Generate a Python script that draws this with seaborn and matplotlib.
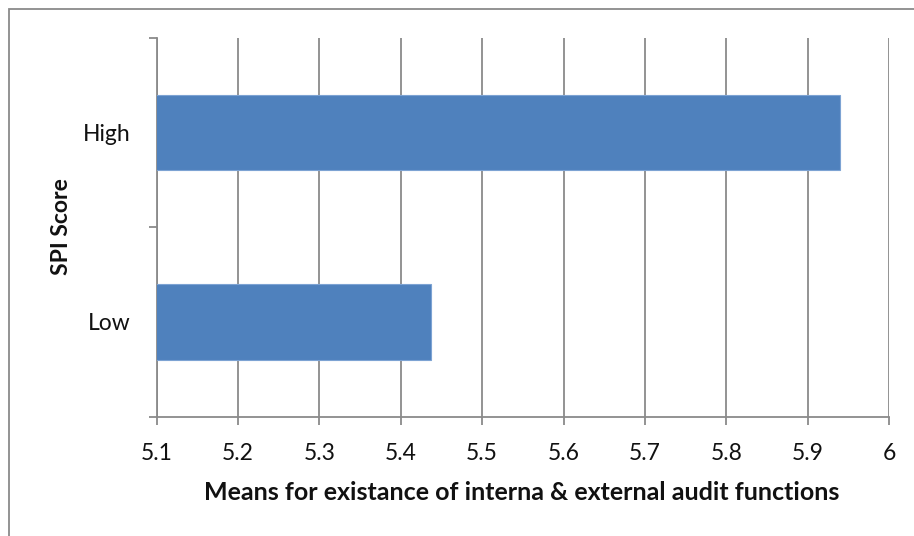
import matplotlib
matplotlib.use("Agg")
import matplotlib.pyplot as plt
import seaborn as sns
import pandas as pd
import numpy as np
from matplotlib.patches import Rectangle

categories = ["High", "Low"]
means = [5.94, 5.437]
x_ticks = [5.1, 5.2, 5.3, 5.4, 5.5, 5.6, 5.7, 5.8, 5.9, 6.0]
x_tick_labels = ["5.1", "5.2", "5.3", "5.4", "5.5", "5.6", "5.7", "5.8", "5.9", "6"]
x_label = "Means for existance of interna & external audit functions"
y_label = "SPI Score"

sns.set_theme(style="white")
plt.rcParams['font.family'] = ['Lato', 'DejaVu Sans']

df = pd.DataFrame({"SPI Score": categories, "Mean": means})

W, H = 914, 536
fig = plt.figure(figsize=(W / 100, H / 100), dpi=100)
L, R, T, B = 156.7, 889, 37.7, 416.7
ax = fig.add_axes([L / W, 1 - B / H, (R - L) / W, (B - T) / H])

grid_c = "#8a8a8a"
sns.barplot(data=df, y="SPI Score", x="Mean", order=categories, orient="h",
            color="#4F81BD", saturation=1, width=0.4, ax=ax,
            edgecolor="#7da3d3", linewidth=0.8, zorder=3)

ax.set_xlim(5.1, 6.0)
ax.set_ylim(1.5, -0.5)
ax.set_xticks(x_ticks)
ax.set_xticklabels(x_tick_labels, fontsize=16.5, color="#111111")
ax.xaxis.grid(True, color=grid_c, linewidth=1.3, zorder=0)
ax.yaxis.grid(False)
ax.set_axisbelow(True)

ax.set_yticks([0, 1])
ax.set_yticklabels(categories, fontsize=16.5, color="#111111")
ax.set_yticks([-0.5, 0.5, 1.5], minor=True)
ax.tick_params(axis="y", which="major", length=0, pad=19)
ax.tick_params(axis="y", which="minor", length=6, width=1.3, color=grid_c, direction="out", left=True)
ax.tick_params(axis="x", which="major", length=6, width=1.3, color=grid_c, direction="out", bottom=True, pad=13)

for s in ["top", "right"]:
    ax.spines[s].set_visible(False)
for s in ["left", "bottom"]:
    ax.spines[s].set_color(grid_c)
    ax.spines[s].set_linewidth(1.3)

ax.set_xlabel("")
ax.set_ylabel("")
fig.text(522 / W, 1 - 500 / H, x_label, ha="center", va="baseline",
         fontsize=18, fontweight="bold", color="#111111")
fig.text(61 / W, 1 - 227 / H, y_label, ha="center", va="center", rotation=90,
         fontsize=16.5, fontweight="bold", color="#111111")

# outer chart frame
fig.patches.append(Rectangle((8.5 / W, -0.2), 1.2, (1 - 8.5 / H) + 0.2,
                             transform=fig.transFigure, fill=False,
                             edgecolor="#8a8a8a", linewidth=1.3))

fig.savefig("out.png", dpi=100)
